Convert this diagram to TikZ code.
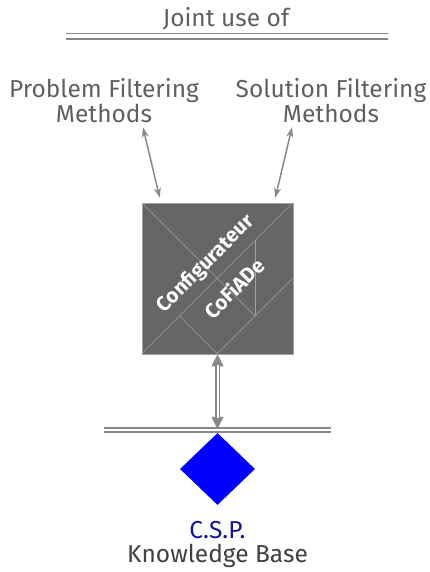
\documentclass[tikz,border=0pt]{standalone}
\usepackage{fontspec}
\setmainfont{Fira Sans}
\usetikzlibrary{shapes.geometric,positioning,arrows.meta,calc}

\begin{document}
\begin{tikzpicture}[x=1pt,y=-1pt]
    % Colores
    \definecolor{textgray}{RGB}{96,96,96}
    \definecolor{linegray}{RGB}{136,136,136}
    \definecolor{boxgray}{RGB}{102,102,102}
    \definecolor{tanline}{RGB}{160,160,160}
    \definecolor{kbtext}{RGB}{64,64,64}
    \definecolor{cspblue}{RGB}{20,20,150}

    \tikzset{
        txt/.style={text=textgray, font=\fontsize{24.5}{25}\selectfont, align=center, inner sep=0pt},
        bar/.style={draw=linegray, double=white, line width=1.8pt, double distance=4pt},
        link/.style={draw=linegray, line width=1.5pt, {Stealth[length=10pt,width=7pt]}-{Stealth[length=10pt,width=7pt]}},
        dtips/.style={draw=linegray, line width=0.8pt,
            {Triangle[length=12pt,width=12pt]}-{Triangle[length=12pt,width=12pt]}},
        dshaft/.style={draw=linegray, double=white, line width=1.4pt, double distance=2pt,
            shorten <=11pt, shorten >=11pt},
        cfgbox/.style={fill=boxgray, draw=tanline, line width=0.6pt, minimum size=151pt, inner sep=0pt},
        cfgtext/.style={text=white, font=\fontsize{20.5}{22}\selectfont\bfseries, inner sep=0pt, rotate=45}
    }

    \useasboundingbox (0,0) rectangle (430,572);

    % Titulo y barra superior
    \node[txt] (joint) at (226,19) {Joint use of};
    \draw[bar] (66,36.5) -- (388,36.5);

    % Metodos de filtrado
    \node[txt] (pfm) at (104,101) {Problem Filtering\\Methods};
    \node[txt] (sfm) at (331,101) {Solution Filtering\\Methods};

    % Configurador
    \node[cfgbox] (cfg) at (217.5,278.5) {};
    \begin{scope}[shift={(cfg.north west)}, x=37.75pt, y=-37.75pt, draw=tanline, line width=0.5pt]
        \draw[tanline] (0,4) -- (4,0);
        \draw[tanline] (0,0) -- (3,3);
        \draw[tanline] (3,1) -- (3,3);
        \draw[tanline] (1,3) -- (2,4) -- (4,2);
    \end{scope}
    \node[cfgtext] (cfgname) at ($(cfg.center)+(-11.5,-14.5)$) {Configurateur};
    \node[cfgtext] (cfgacro) at ($(cfg.center)+(16.5,9.5)$) {CoFiADe};

    % Enlaces
    \draw[link] ([xshift=39pt,yshift=-4pt]pfm.south) -- ([xshift=18pt,yshift=5pt]cfg.north west);
    \draw[link] ([xshift=-39pt,yshift=-4pt]sfm.south) -- ([xshift=-18pt,yshift=5pt]cfg.north east);

    % Base de conocimiento
    \draw[bar, line width=1.5pt, double distance=2.8pt] (104,430) -- (331,430);
    \node[diamond, fill=blue, minimum width=75pt, minimum height=72pt, inner sep=0pt] (kb) at (217.5,469) {};
    \draw[dtips] (cfg.south) -- ([yshift=4pt]kb.north);
    \draw[dshaft] (cfg.south) -- ([yshift=4pt]kb.north);
    \node[txt, text=cspblue] (csp) at (217.5,530) {C.S.P.};
    \node[txt, text=kbtext] (kbase) at (217.5,556) {Knowledge Base};
\end{tikzpicture}
\end{document}
